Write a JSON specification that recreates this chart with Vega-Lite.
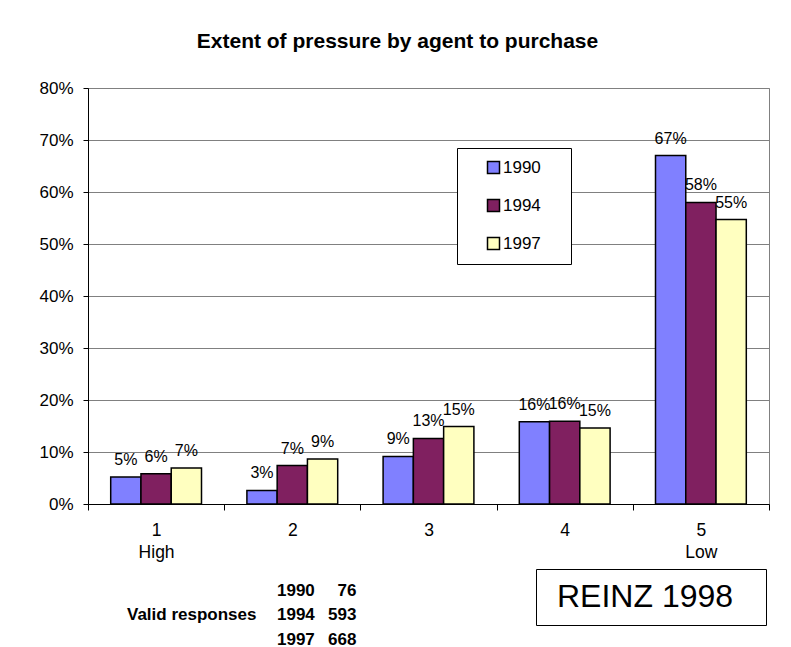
{
  "$schema": "https://vega.github.io/schema/vega-lite/v6.json",
  "width": 681,
  "height": 416,
  "autosize": {"type": "none"},
  "padding": {"left": 88, "top": 88, "right": 22, "bottom": 143},
  "background": "white",
  "config": {
    "font": "Liberation Sans",
    "view": {"stroke": "#808080", "strokeWidth": 1},
    "axis": {"domainColor": "#000", "tickColor": "#000", "labelColor": "#000", "labelFont": "Liberation Sans"},
    "legend": {"labelFont": "Liberation Sans", "titleFont": "Liberation Sans"}
  },
  "title": {
    "text": "Extent of pressure by agent to purchase",
    "fontSize": 21,
    "fontWeight": "bold",
    "font": "Liberation Sans",
    "color": "#000",
    "anchor": "middle",
    "dx": -31,
    "offset": 27
  },
  "datasets": {
    "shares": [
      {"category": "1\nHigh", "year": "1990", "share": 0.052},
      {"category": "1\nHigh", "year": "1994", "share": 0.058},
      {"category": "1\nHigh", "year": "1997", "share": 0.069},
      {"category": "2", "year": "1990", "share": 0.026},
      {"category": "2", "year": "1994", "share": 0.074},
      {"category": "2", "year": "1997", "share": 0.0865},
      {"category": "3", "year": "1990", "share": 0.0915},
      {"category": "3", "year": "1994", "share": 0.126},
      {"category": "3", "year": "1997", "share": 0.149},
      {"category": "4", "year": "1990", "share": 0.158},
      {"category": "4", "year": "1994", "share": 0.159},
      {"category": "4", "year": "1997", "share": 0.146},
      {"category": "5\nLow", "year": "1990", "share": 0.670},
      {"category": "5\nLow", "year": "1994", "share": 0.580},
      {"category": "5\nLow", "year": "1997", "share": 0.547}
    ],
    "responses": [
      {"year": 1990, "n": 76},
      {"year": 1994, "n": 593},
      {"year": 1997, "n": 668}
    ],
    "source": [
      {"source": "REINZ 1998"}
    ]
  },
  "layer": [
    {
      "data": {"name": "shares"},
      "mark": {"type": "bar", "stroke": "#000", "strokeWidth": 1.5},
      "encoding": {
        "x": {
          "field": "category", "type": "nominal",
          "scale": {"paddingInner": 0, "paddingOuter": 0},
          "axis": {
            "title": null, "labelExpr": "split(datum.label, '\\n')", "labelAngle": 0,
            "tickBand": "extent", "tickSize": 6, "labelFontSize": 17.5, "labelLineHeight": 22,
            "labelPadding": 11, "grid": false
          }
        },
        "xOffset": {"field": "year", "type": "nominal", "scale": {"paddingOuter": 0.75, "paddingInner": 0}},
        "y": {
          "field": "share", "type": "quantitative",
          "scale": {"domain": [0, 0.8], "nice": false},
          "axis": {
            "title": null, "format": ".0%", "values": [0, 0.1, 0.2, 0.3, 0.4, 0.5, 0.6, 0.7, 0.8],
            "tickSize": 5, "labelPadding": 10, "labelFontSize": 17, "gridColor": "#808080"
          }
        },
        "color": {
          "field": "year", "type": "nominal",
          "scale": {"range": ["#8080FF", "#802060", "#FFFFC0"]},
          "legend": {
            "title": null, "orient": "none", "legendX": 369, "legendY": 60,
            "padding": 11, "symbolType": "square", "symbolSize": 144,
            "symbolStrokeColor": "#000", "symbolStrokeWidth": 1.5, "symbolOpacity": 1,
            "symbolOffset": 17, "labelOffset": 1, "labelFontSize": 17, "labelColor": "#000",
            "rowPadding": 19, "strokeColor": "#000", "fillColor": "#fff",
            "labelExpr": "datum.label + '\u00a0\u00a0\u00a0\u00a0\u200b'"
          }
        }
      }
    },
    {
      "data": {"name": "shares"},
      "mark": {"type": "text", "dy": -17, "baseline": "middle", "fontSize": 16, "color": "#000"},
      "encoding": {
        "x": {"field": "category", "type": "nominal"},
        "xOffset": {"field": "year", "type": "nominal"},
        "y": {"field": "share", "type": "quantitative"},
        "text": {"field": "share", "format": ".0%"}
      }
    },
    {
      "data": {"name": "responses"},
      "mark": {"type": "point", "opacity": 0, "size": 0},
      "encoding": {
        "shape": {
          "field": "year", "type": "nominal",
          "legend": {
            "title": "Valid responses", "titleOrient": "left", "titleFontSize": 17,
            "titleFontWeight": "bold", "titleColor": "#000", "titlePadding": 3,
            "titleAnchor": "middle", "titleBaseline": "middle",
            "labelFontSize": 17, "labelFontWeight": "bold", "labelColor": "#000",
            "symbolSize": 0, "symbolOpacity": 0, "labelOffset": 0, "rowPadding": 6.5,
            "padding": 0, "orient": "none", "legendX": 39, "legendY": 494
          }
        }
      }
    },
    {
      "data": {"name": "responses"},
      "mark": {"type": "point", "opacity": 0, "size": 0},
      "encoding": {
        "shape": {
          "field": "n", "type": "nominal", "sort": {"field": "year", "op": "min"},
          "legend": {
            "title": null, "labelFontSize": 17, "labelFontWeight": "bold", "labelColor": "#000",
            "symbolSize": 0, "symbolOpacity": 0, "labelOffset": 0, "rowPadding": 6.5,
            "padding": 0, "orient": "none", "legendX": 223, "legendY": 494,
            "labelExpr": "length(datum.label) < 3 ? '\u200b\u00a0\u00a0' + datum.label : datum.label"
          }
        }
      }
    },
    {
      "data": {"name": "source"},
      "mark": {"type": "point", "opacity": 0, "size": 0},
      "encoding": {
        "shape": {
          "field": "source", "type": "nominal",
          "legend": {
            "title": null, "labelFontSize": 32, "labelColor": "#000", "labelLimit": 0,
            "symbolSize": 0, "symbolOpacity": 0, "labelOffset": -23,
            "padding": 12, "strokeColor": "#000", "fillColor": "#fff",
            "orient": "none", "legendX": 448, "legendY": 481,
            "labelExpr": "datum.label + '\u00a0\u00a0\u200a\u200b'",
            "encode": {"legend": {"update": {"strokeWidth": {"value": 2}}}}
          }
        }
      }
    }
  ],
  "resolve": {"scale": {"shape": "independent"}, "legend": {"shape": "independent"}}
}
